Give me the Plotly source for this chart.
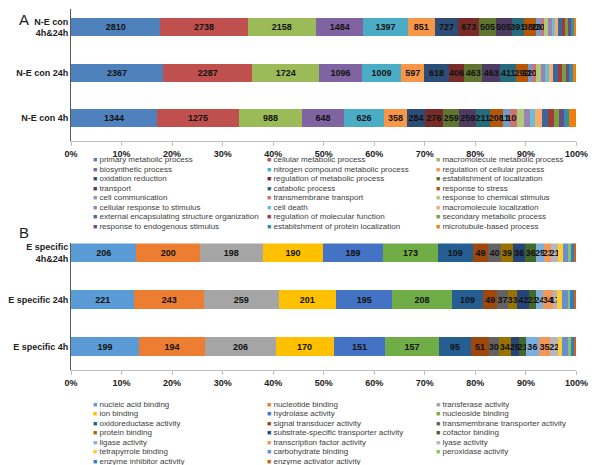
"""
go_bars.py:
Stacked percentage bars of GO term counts, biological process (A) and molecular function (B).
"""
import plotly.graph_objects as go

FONT = 'Arial, Liberation Sans, sans-serif'
# the page body keeps its 8px margin, so the figure is sized to fit the 600x465 window
PAGE_MARGIN = 8
WIDTH = 600 - PAGE_MARGIN
HEIGHT = 465 - PAGE_MARGIN

# ---- panel A: biological process ----
A_ROWS = ['N-E con 4h', 'N-E con 24h', 'N-E con<br>4h&24h']
A_TERMS = ['primary metabolic process', 'cellular metabolic process',
           'macromolecule metabolic process', 'biosynthetic process',
           'nitrogen compound metabolic process', 'regulation of cellular process',
           'oxidation reduction', 'regulation of metabolic process',
           'establishment of localization', 'transport', 'catabolic process',
           'response to stress', 'cell communication', 'transmembrane transport',
           'response to chemical stimulus', 'cellular response to stimulus', 'cell death',
           'macromolecule localization', 'external encapsulating structure organization',
           'regulation of molecular function', 'secondary metabolic process',
           'response to endogenous stimulus', 'establishment of protein localization',
           'microtubule-based process']
A_COLOURS = ['#4F81BD', '#C0504D', '#9BBB59', '#8064A2', '#4BACC6', '#F79646',
             '#2C4D75', '#772C2A', '#5F7530', '#4D3B62', '#276A7C', '#B65708',
             '#729ACA', '#CD7371', '#AFC97A', '#9983B5', '#6FBDD1', '#F9AB6B',
             '#3A679C', '#9F3B38', '#7E9D40', '#664F83', '#358EA6', '#F07F09']
A_4H = [1344, 1275, 988, 648, 626, 358, 284, 276, 259, 259, 211, 208,
        116, 105, 100, 95, 90, 100, 90, 95, 85, 80, 80, 110]
A_24H = [2367, 2287, 1724, 1096, 1009, 597, 618, 406, 463, 463, 411, 292,
         120, 101, 110, 110, 100, 120, 110, 100, 100, 95, 95, 90]
A_BOTH = [2810, 2738, 2158, 1484, 1397, 851, 727, 673, 505, 505, 391, 388,
          135, 104, 120, 120, 110, 100, 110, 100, 100, 90, 90, 80]
A_LABELLED = 14  # the thin tail segments carry no count label

# ---- panel B: molecular function ----
B_ROWS = ['E specific 4h', 'E specific 24h', 'E specific<br>4h&24h']
B_TERMS = ['nucleic acid binding', 'nucleotide binding', 'transferase activity',
           'ion binding', 'hydrolase activity', 'nucleoside binding',
           'oxidoreductase activity', 'signal transducer activity',
           'transmembrane transporter activity', 'protein binding',
           'substrate-specific transporter activity', 'cofactor binding',
           'ligase activity', 'transcription factor activity', 'lyase activity',
           'tetrapyrrole binding', 'carbohydrate binding', 'peroxidase activity',
           'enzyme inhibitor activity', 'enzyme activator activity']
B_COLOURS = ['#5B9BD5', '#ED7D31', '#A5A5A5', '#FFC000', '#4472C4', '#70AD47',
             '#255E91', '#9E480E', '#636363', '#997300', '#264478', '#43682B',
             '#7CAFDD', '#F1975A', '#B7B7B7', '#FFCD33', '#698ED0', '#8CC168',
             '#327DC2', '#D26012']
B_4H = [199, 194, 206, 170, 151, 157, 95, 51, 30, 34, 25, 21, 36, 35, 22, 12, 18, 8, 10, 6]
B_24H = [221, 243, 259, 201, 195, 208, 109, 49, 37, 33, 42, 23, 24, 34, 17, 14, 26, 5, 14, 7]
B_BOTH = [206, 200, 198, 190, 189, 173, 109, 49, 40, 39, 36, 36, 25, 23, 21, 17, 14, 9, 12, 6]
B_LABELLED = 15


def px_x(p: float) -> float:
    """ Horizontal window pixel -> paper coordinate. """
    return (p - PAGE_MARGIN) / WIDTH


def px_y(p: float) -> float:
    """ Vertical window pixel (from the top) -> paper coordinate. """
    return 1 - (p - PAGE_MARGIN) / HEIGHT


def add_panel(fig: go.Figure, rows: list, terms: list, colours: list, series: list,
              n_labelled: int, axis: str) -> None:
    """ Adds one stacked bar per term; series holds the value lists in the order of rows. """
    for i, (term, colour) in enumerate(zip(terms, colours)):
        values = [s[i] for s in series]
        text = [str(v) for v in values] if i < n_labelled else ['' for _ in values]
        fig.add_trace(go.Bar(y=rows, x=values, orientation='h', name=term,
                             marker=dict(color=colour, line=dict(width=0)),
                             width=0.4, text=text, textposition='inside',
                             insidetextanchor='middle', textangle=0,
                             insidetextfont=dict(family=FONT, size=9, color='#111111',
                                                 weight='bold'),
                             cliponaxis=False, showlegend=False, hoverinfo='skip',
                             xaxis='x' + axis, yaxis='y' + axis))


def legend_notes(terms: list, colours: list, top: float, step: float) -> list:
    """ Three-column legend written as annotations, Excel style. """
    columns = [85, 265, 440]
    notes = []
    for i, (term, colour) in enumerate(zip(terms, colours)):
        notes.append(dict(
            x=px_x(columns[i % 3]), y=px_y(top + step * (i // 3)),
            xref='paper', yref='paper', xanchor='left', yanchor='middle',
            text='<span style="color:' + colour + ';font-size:7px">■</span> ' + term,
            showarrow=False, font=dict(family=FONT, size=8, color='#404040')))
    return notes


def plot_go_bars() -> None:
    """ Builds both panels and writes out.html. """
    fig = go.Figure()
    add_panel(fig, A_ROWS, A_TERMS, A_COLOURS, [A_4H, A_24H, A_BOTH], A_LABELLED, '')
    add_panel(fig, B_ROWS, B_TERMS, B_COLOURS, [B_4H, B_24H, B_BOTH], B_LABELLED, '2')

    x_axis = dict(domain=[px_x(64), px_x(588)], range=[0, 100], dtick=10, ticksuffix='%',
                  showgrid=False, zeroline=False, showline=True, linecolor='#bfbfbf',
                  ticks='outside', ticklen=4, tickcolor='#bfbfbf', fixedrange=True,
                  tickfont=dict(family=FONT, size=9, color='#222222', weight='bold'))
    y_axis = dict(type='category', showgrid=False, zeroline=False, showline=True,
                  linecolor='#595959', ticks='', fixedrange=True,
                  tickfont=dict(family=FONT, size=9, color='#222222', weight='bold'))

    fig.update_layout(
        width=WIDTH, height=HEIGHT, margin=dict(l=0, r=0, t=0, b=0),
        paper_bgcolor='white', plot_bgcolor='white',
        barmode='stack', barnorm='percent',
        uniformtext=dict(minsize=9, mode='show'),
        xaxis=dict(x_axis, anchor='y'),
        yaxis=dict(y_axis, domain=[px_y(140), px_y(8)], range=[-0.5, 2.401], anchor='x'),
        xaxis2=dict(x_axis, anchor='y2'),
        yaxis2=dict(y_axis, domain=[px_y(370), px_y(243)], range=[-0.5, 2.2], anchor='x2'),
        annotations=[
            dict(x=px_x(8), y=px_y(8), xref='paper', yref='paper', text='A',
                 showarrow=False, xanchor='left', yanchor='top',
                 font=dict(family=FONT, size=15, color='#222222')),
            dict(x=px_x(8), y=px_y(232), xref='paper', yref='paper', text='B',
                 showarrow=False, xanchor='left', yanchor='middle',
                 font=dict(family=FONT, size=15, color='#222222')),
        ] + legend_notes(A_TERMS, A_COLOURS, 159, 9.5)
          + legend_notes(B_TERMS, B_COLOURS, 404, 9.5),
    )

    fig.write_html('out.html')


if __name__ == '__main__':
    plot_go_bars()
